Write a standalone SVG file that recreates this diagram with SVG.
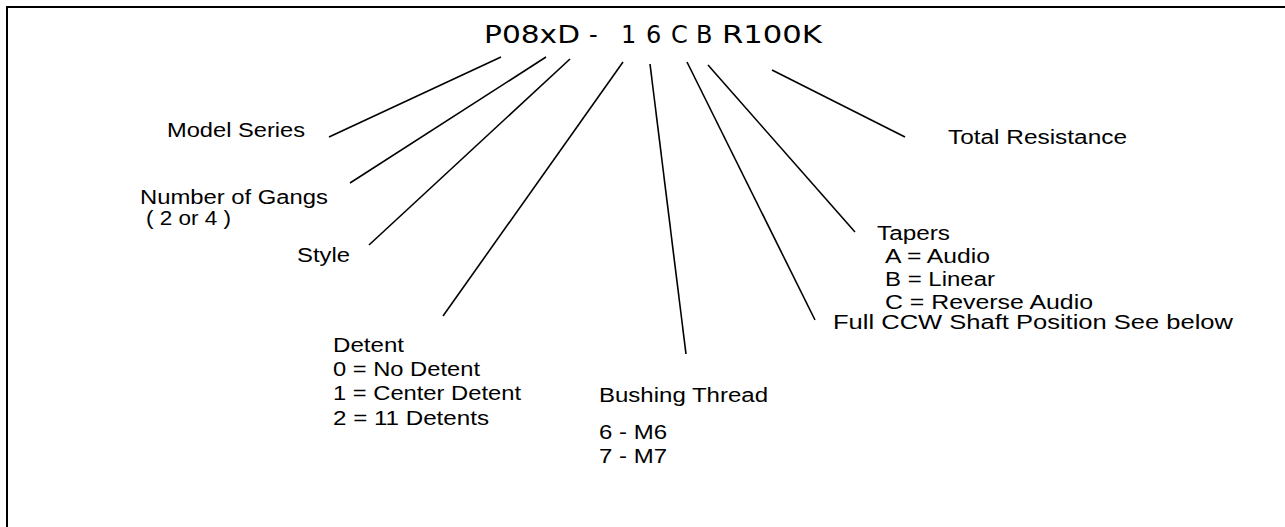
<svg xmlns="http://www.w3.org/2000/svg" width="1285" height="527" viewBox="0 0 1285 527">
<style>
.lbl{font-family:"Liberation Sans",Arial,sans-serif;font-size:20px;fill:#000}
.ttl{font-family:"DejaVu Sans","Liberation Sans",sans-serif;font-size:24px;fill:#000}
.ln{stroke:#000;stroke-width:1.6;fill:none}
</style>
<rect width="1285" height="527" fill="#fff"/>
<path d="M7 527 V7 H1285" stroke="#000" stroke-width="2" fill="none"/>
<g id="title">
<text class="ttl" y="43"><tspan x="484" textLength="96" lengthAdjust="spacingAndGlyphs">P08xD</tspan><tspan x="589">-</tspan><tspan x="621">1</tspan><tspan x="646">6</tspan><tspan x="671">C</tspan><tspan x="696">B</tspan><tspan x="722" textLength="100" lengthAdjust="spacingAndGlyphs">R100K</tspan></text>
</g>
<g id="connectors">
<line class="ln" x1="501" y1="57" x2="329" y2="137"/>
<line class="ln" x1="546" y1="57" x2="350" y2="183"/>
<line class="ln" x1="570" y1="59" x2="369" y2="245"/>
<line class="ln" x1="623" y1="62" x2="443" y2="316"/>
<line class="ln" x1="650" y1="64" x2="686" y2="354"/>
<line class="ln" x1="687" y1="62" x2="815" y2="320"/>
<line class="ln" x1="708" y1="65" x2="855" y2="232"/>
<line class="ln" x1="772" y1="70" x2="905" y2="137"/>
</g>
<g id="model-series"><text class="lbl" x="167" y="137" textLength="138" lengthAdjust="spacingAndGlyphs">Model Series</text></g>
<g id="gangs"><text class="lbl" x="140" y="204" textLength="188" lengthAdjust="spacingAndGlyphs">Number of Gangs</text><text class="lbl" x="146" y="225" textLength="85" lengthAdjust="spacingAndGlyphs">( 2 or 4 )</text></g>
<g id="style"><text class="lbl" x="297" y="262" textLength="53" lengthAdjust="spacingAndGlyphs">Style</text></g>
<g id="detent"><text class="lbl" x="333" y="352" textLength="71" lengthAdjust="spacingAndGlyphs">Detent</text><text class="lbl" x="333" y="376" textLength="147" lengthAdjust="spacingAndGlyphs">0 = No Detent</text><text class="lbl" x="333" y="400" textLength="188" lengthAdjust="spacingAndGlyphs">1 = Center Detent</text><text class="lbl" x="333" y="425" textLength="156" lengthAdjust="spacingAndGlyphs">2 = 11 Detents</text></g>
<g id="bushing"><text class="lbl" x="599" y="402" textLength="169" lengthAdjust="spacingAndGlyphs">Bushing Thread</text><text class="lbl" x="599" y="439" textLength="68" lengthAdjust="spacingAndGlyphs">6 - M6</text><text class="lbl" x="599" y="463" textLength="68" lengthAdjust="spacingAndGlyphs">7 - M7</text></g>
<g id="ccw"><text class="lbl" x="833" y="329" textLength="400" lengthAdjust="spacingAndGlyphs">Full CCW Shaft Position See below</text></g>
<g id="tapers"><text class="lbl" x="877" y="240" textLength="73" lengthAdjust="spacingAndGlyphs">Tapers</text><text class="lbl" x="885" y="263" textLength="105" lengthAdjust="spacingAndGlyphs">A = Audio</text><text class="lbl" x="885" y="286" textLength="110" lengthAdjust="spacingAndGlyphs">B = Linear</text><text class="lbl" x="885" y="309" textLength="208" lengthAdjust="spacingAndGlyphs">C = Reverse Audio</text></g>
<g id="resistance"><text class="lbl" x="948" y="144" textLength="179" lengthAdjust="spacingAndGlyphs">Total Resistance</text></g>
</svg>
